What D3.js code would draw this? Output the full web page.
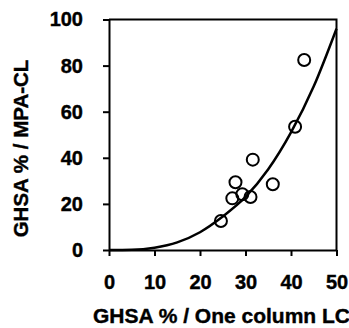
<!DOCTYPE html>
<html>
<head>
<meta charset="utf-8">
<script src="https://cdn.jsdelivr.net/npm/d3@7"></script>
<style>
  body { margin: 0; background: #fff; }
  svg { display: block; }
  .axis path, .axis line { stroke: #000; stroke-width: 2px; }
</style>
</head>
<body>
<svg id="chart" width="349" height="328"></svg>
<script>
// measured points (GHSA % by one column LC vs MPA-CL)
const pointX = [24.6, 27.1, 27.8, 29.3, 31.1, 31.6, 36.0, 40.9, 42.9];
const pointY = [12.6, 22.4, 29.4, 24.2, 23.0, 39.2, 28.5, 53.5, 82.4];

// fitted curve
const curveX = [0, 5, 10, 15, 20, 25, 30, 35, 40, 45, 50];
const curveY = [0, 0.1, 1.0, 3.3, 7.7, 14.5, 23, 35, 51, 71, 96];

const xTicks = [0, 10, 20, 30, 40, 50];
const yTicks = [0, 20, 40, 60, 80, 100];

const font = '"Liberation Sans", Arial, Helvetica, sans-serif';

const svg = d3.select('#chart');

const plotLeft = 109;
const plotRight = 336.5;
const plotTop = 19.5;
const plotBottom = 250;

const x = d3.scaleLinear().domain([0, 50]).range([plotLeft, plotRight]);
const y = d3.scaleLinear().domain([0, 100]).range([plotBottom, plotTop]);

// frame (top and right)
svg.append('path')
  .attr('d', `M${plotLeft},${plotTop}H${plotRight}V${plotBottom}`)
  .attr('fill', 'none')
  .attr('stroke', '#000')
  .attr('stroke-width', 2);

// axes
const gx = svg.append('g')
  .attr('class', 'axis')
  .attr('transform', `translate(0,${plotBottom})`)
  .call(d3.axisBottom(x).tickValues(xTicks).tickSize(6).tickPadding(19).tickSizeOuter(0));

const gy = svg.append('g')
  .attr('class', 'axis')
  .attr('transform', `translate(${plotLeft},0)`)
  .call(d3.axisLeft(y).tickValues(yTicks).tickSize(6).tickPadding(20).tickSizeOuter(0));

[gx, gy].forEach((g) => {
  g.attr('font-family', font)
    .attr('font-size', 20)
    .attr('font-weight', 'bold');
  g.selectAll('text')
    .attr('fill', '#000')
    .attr('stroke', '#000')
    .attr('stroke-width', 0.4);
});

// the curve
const line = d3.line()
  .x((d, i) => x(curveX[i]))
  .y((d) => y(d))
  .curve(d3.curveMonotoneX);

svg.append('path')
  .datum(curveY)
  .attr('d', line)
  .attr('fill', 'none')
  .attr('stroke', '#000')
  .attr('stroke-width', 2.5);

// the points
svg.append('g')
  .selectAll('circle')
  .data(pointX)
  .enter()
  .append('circle')
  .attr('cx', (d) => x(d))
  .attr('cy', (d, i) => y(pointY[i]))
  .attr('r', 6)
  .attr('fill', 'none')
  .attr('stroke', '#000')
  .attr('stroke-width', 2);

// titles
svg.append('text')
  .attr('x', 221.5)
  .attr('y', 323)
  .attr('text-anchor', 'middle')
  .attr('font-family', font)
  .attr('font-size', 21)
  .attr('font-weight', 'bold')
  .attr('stroke', '#000')
  .attr('stroke-width', 0.4)
  .text('GHSA % / One column LC');

svg.append('text')
  .attr('transform', 'translate(28,148.5) rotate(-90)')
  .attr('text-anchor', 'middle')
  .attr('font-family', font)
  .attr('font-size', 20.5)
  .attr('font-weight', 'bold')
  .attr('stroke', '#000')
  .attr('stroke-width', 0.4)
  .text('GHSA % / MPA-CL');
</script>
</body>
</html>
